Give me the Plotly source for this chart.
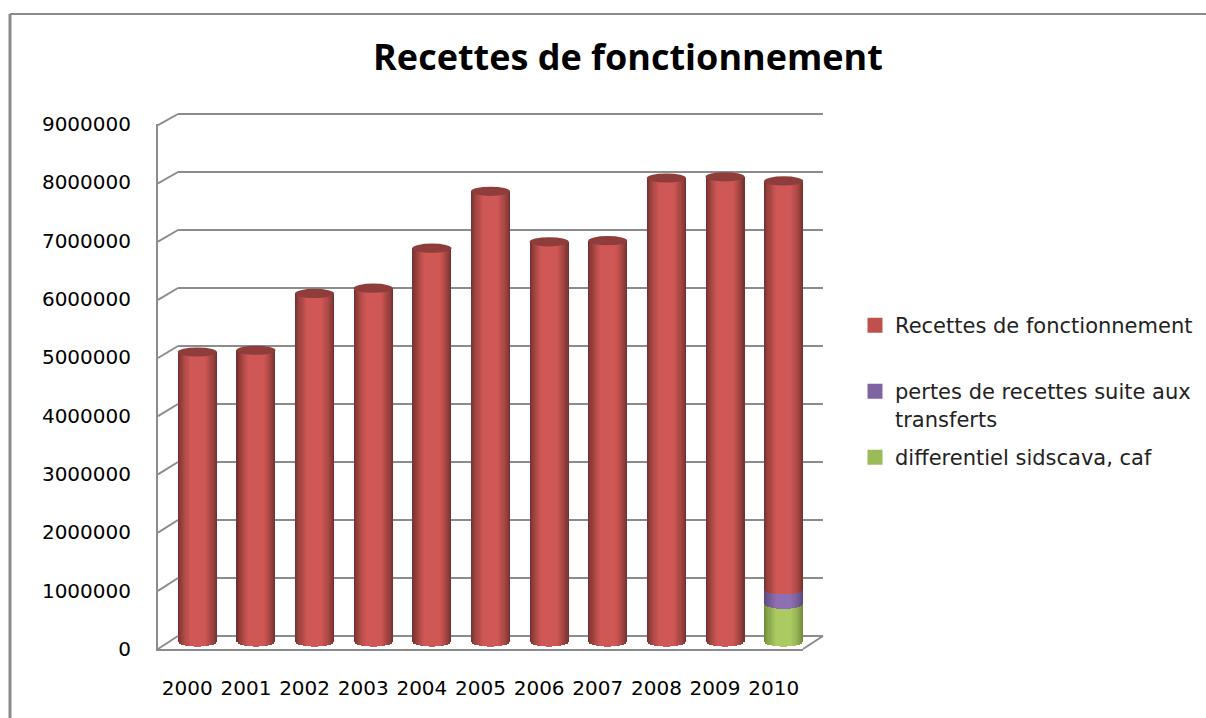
import numpy as np
import plotly.graph_objects as go

W, H = 1206, 718
years = ["2000", "2001", "2002", "2003", "2004", "2005", "2006", "2007", "2008", "2009", "2010"]
recettes = [5000000, 5030000, 6010000, 6100000, 6790000, 7770000, 6900000, 6920000, 8000000, 8020000, 7050000]
pertes = [0, 0, 0, 0, 0, 0, 0, 0, 0, 0, 250000]
differentiel = [0, 0, 0, 0, 0, 0, 0, 0, 0, 0, 650000]
yticks = [0, 1000000, 2000000, 3000000, 4000000, 5000000, 6000000, 7000000, 8000000, 9000000]
title = "Recettes de fonctionnement"
names = ["Recettes de fonctionnement", "pertes de recettes suite aux<br>transferts", "differentiel sidscava, caf"]
legend_colors = ["#c0504d", "#8064a2", "#9bbb59"]
# (edge colour, centre colour) of the cylinder shading
shades = [("#753230", "#cf5755"), ("#5a4679", "#8f6fb3"), ("#708a3c", "#abcb62")]
cap_color = "#8f3d3b"
grid_color = "#8c8c8c"

BAR_W = 39 / 58.6
CAP = 4.6 / 58 * 1e6   # half height of the ellipse, data units
N = 18


def px(x):
    return x / W


def py(y):
    return 1 - y / H


def mix(a, b, t):
    ca = [int(a[i:i + 2], 16) for i in (1, 3, 5)]
    cb = [int(b[i:i + 2], 16) for i in (1, 3, 5)]
    return "rgb(%d,%d,%d)" % tuple(round(p + (q - p) * t) for p, q in zip(ca, cb))


# stack from the bottom: differentiel, pertes, recettes
series = [np.array(differentiel, float), np.array(pertes, float), np.array(recettes, float)]
order = [2, 1, 0]
bottoms = np.zeros(len(years))
fig = go.Figure()
fracs = np.linspace(1, 0.06, N)
for vals, idx in zip(series, order):
    edge, centre = shades[idx]
    for f in fracs:
        sag = CAP * np.sqrt(1 - f ** 2)
        t = min(1, (1 - f) / 0.6) ** 0.75
        fig.add_trace(go.Bar(
            x=years, y=vals, base=bottoms - sag, width=BAR_W * f,
            marker=dict(color=mix(edge, centre, t), line=dict(width=0)),
            xaxis="x3", yaxis="y3", showlegend=False, cliponaxis=False, hoverinfo="skip"))
    bottoms = bottoms + vals
tops = bottoms

for i, (name, col) in enumerate(zip(names, legend_colors)):
    fig.add_trace(go.Bar(x=[years[0]], y=[None], name=name,
                         marker=dict(color=col, line=dict(color=col, width=3)),
                         xaxis="x3", yaxis="y3", showlegend=True,
                         legend="legend" if i == 0 else "legend%d" % (i + 1)))

shapes = []
# frame of the chart
line_frame = dict(color="#8a8a8a", width=3)
shapes.append(dict(type="line", xref="paper", yref="paper", x0=px(10), x1=px(10), y0=py(14), y1=0, line=line_frame))
shapes.append(dict(type="line", xref="paper", yref="paper", x0=px(10), x1=1, y0=py(14), y1=py(14), line=dict(color="#8a8a8a", width=2)))
# side wall and floor
wall = dict(color="#8c8c8c", width=2)
for v in yticks:
    yf = 649 - v / 1e6 * 58.2
    yb = 636 - v / 1e6 * 58
    shapes.append(dict(type="line", xref="paper", yref="paper", x0=px(158), x1=px(178), y0=py(yf), y1=py(yb), line=wall))
shapes.append(dict(type="line", xref="paper", yref="paper", x0=px(803), x1=px(823), y0=py(649), y1=py(636), line=wall))
# tops of the cylinders
for top, i in zip(tops, range(len(years))):
    shapes.append(dict(type="circle", xref="x3", yref="y3", x0=i - BAR_W / 2, x1=i + BAR_W / 2,
                       y0=top - CAP, y1=top + CAP, fillcolor=cap_color, line=dict(width=0), layer="above"))

tick_font = dict(family="DejaVu Sans", size=20, color="#000000")
legend_font = dict(size=21, family="DejaVu Sans", color="#222222")
fig.update_layout(
    width=W, height=H, autosize=False, margin=dict(l=0, r=0, t=0, b=0, autoexpand=False),
    paper_bgcolor="white", plot_bgcolor="rgba(0,0,0,0)", barmode="overlay", bargap=0,
    font=dict(family="DejaVu Sans", color="#111111"),
    title=dict(text=title, x=px(628), y=py(57), xanchor="center", yanchor="middle", xref="paper", yref="paper",
               font=dict(family="Open Sans", size=36, color="#000000", weight=700)),
    shapes=shapes,
    # front plane: tick labels and axis lines
    xaxis=dict(domain=[px(158), px(803)], type="category", categoryorder="array", categoryarray=years,
               tickmode="array", tickvals=years, ticktext=years, range=[-0.5, 10.5], anchor="y",
               showgrid=False, zeroline=False, showline=True, linecolor="#8c8c8c", linewidth=2,
               ticks="outside", ticklen=20, tickcolor="rgba(0,0,0,0)", tickfont=tick_font),
    yaxis=dict(domain=[py(649), py(124)], range=[0, 9000000], tickmode="array", tickvals=yticks,
               ticktext=[str(v) for v in yticks], anchor="x",
               showgrid=False, zeroline=False, showline=True, linecolor="#8c8c8c", linewidth=2,
               ticks="outside", ticklen=21, tickcolor="rgba(0,0,0,0)", tickfont=tick_font),
    # back wall: gridlines (range a little wider than the ticks so that the outer lines are drawn)
    xaxis2=dict(domain=[px(178), px(823)], type="category", categoryorder="array", categoryarray=years,
                range=[-0.5, 10.5], anchor="y2", visible=False),
    yaxis2=dict(domain=[py(636 + 5.8), py(114 - 5.8)], range=[-100000, 9100000], tickmode="array", tickvals=yticks,
                anchor="x2", showgrid=True, gridcolor=grid_color, gridwidth=2, zeroline=False, showline=False,
                showticklabels=False, ticks=""),
    # middle plane: the cylinders (room below zero for the rounded bottoms)
    xaxis3=dict(domain=[px(168), px(813)], type="category", categoryorder="array", categoryarray=years,
                range=[-0.5, 10.5], anchor="y3", visible=False),
    yaxis3=dict(domain=[py(642 + 8.7), py(120)], range=[-150000, 9000000], anchor="x3", visible=False),
    legend=dict(x=px(855), y=py(305), xanchor="left", yanchor="top", font=legend_font, bgcolor="rgba(0,0,0,0)"),
    legend2=dict(x=px(855), y=py(371), xanchor="left", yanchor="top", valign="top", font=legend_font, bgcolor="rgba(0,0,0,0)"),
    legend3=dict(x=px(855), y=py(437), xanchor="left", yanchor="top", font=legend_font, bgcolor="rgba(0,0,0,0)"),
)
# a trace on the front and back planes so that those axes are drawn
fig.add_trace(go.Scatter(x=years, y=[None] * len(years), xaxis="x", yaxis="y", showlegend=False, hoverinfo="skip"))
fig.add_trace(go.Scatter(x=years, y=[None] * len(years), xaxis="x2", yaxis="y2", showlegend=False, hoverinfo="skip"))
fig.write_html("out.html", config={"displayModeBar": False},
               post_script="document.body.style.margin='0';document.body.style.overflow='hidden';")
